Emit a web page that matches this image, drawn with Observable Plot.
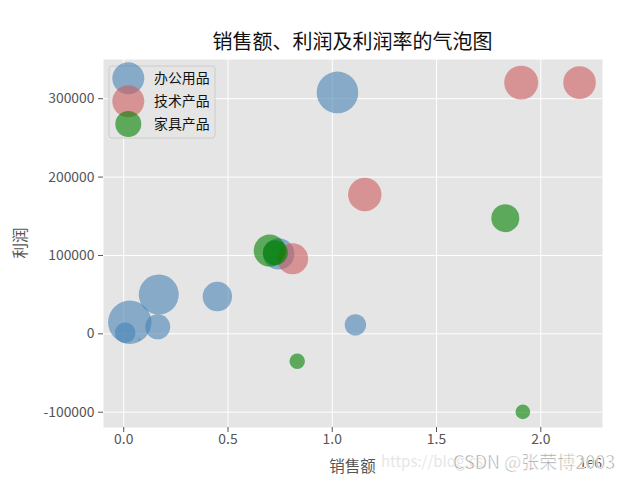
<!DOCTYPE html>
<html><head><meta charset="utf-8">
<script src="https://cdn.jsdelivr.net/npm/d3@7"></script>
<script src="https://cdn.jsdelivr.net/npm/@observablehq/plot@0.6"></script>
<style>body{margin:0;background:#fff;}</style>
</head><body><div id="chart"></div>
<script>
const categories = ["办公用品", "技术产品", "家具产品"];
const colors = ["steelblue", "indianred", "green"];

// 办公用品
const officeSales  = [29000, 7000, 168000, 163000, 449000, 1111000, 75000, 1025000, 743000];
const officeProfit = [14800, 1300, 50100, 8900, 47600, 11500, -7300, 308000, 102000];
const officeRate   = [49.1, 11.1, 41.7, 16.3, 22.5, 11.9, 0.1, 45.1, 25.7];
// 技术产品
const techSales  = [1906000, 2186000, 1156000, 810000];
const techProfit = [320500, 320500, 177700, 95700];
const techRate   = [30.1, 27.7, 29.1, 25.0];
// 家具产品
const furnSales  = [700000, 727000, 832000, 1830000, 1914000];
const furnProfit = [106200, 103500, -35000, 147500, -99500];
const furnRate   = [26.7, 16.3, 6.2, 20.4, 5.6];

const xTicks = [0, 500000, 1000000, 1500000, 2000000];
const yTicks = [-100000, 0, 100000, 200000, 300000];

const series = [
  [officeSales, officeProfit, officeRate],
  [techSales, techProfit, techRate],
  [furnSales, furnProfit, furnRate]
];
const rows = series.flatMap(([s, p, r], i) =>
  s.map((v, j) => ({cat: categories[i], sales: v, profit: p[j], rate: r[j]})));

const font = "'Noto Sans CJK SC', 'Noto Sans', sans-serif";
const svg = Plot.plot({
  width: 640, height: 480,
  marginLeft: 103, marginRight: 38, marginTop: 59, marginBottom: 53,
  style: {fontFamily: font, fontSize: "13.9px", background: "white", overflow: "visible"},
  x: {domain: [-97000, 2296000]},
  y: {domain: [-119500, 350000]},
  r: {type: "sqrt", domain: [0, 50], range: [0, 21.9]},
  color: {domain: categories, range: colors},
  marks: [
    Plot.frame({fill: "#E5E5E5", stroke: null}),
    Plot.gridX(xTicks, {stroke: "white", strokeOpacity: 1, strokeWidth: 1}),
    Plot.gridY(yTicks, {stroke: "white", strokeOpacity: 1, strokeWidth: 1}),
    Plot.axisX(xTicks, {tickFormat: d => (d / 1e6).toFixed(1), tickSize: 5, tickPadding: 2, color: "#555", label: null}),
    Plot.axisY(yTicks, {tickFormat: d => String(d), tickSize: 5, tickPadding: 4, color: "#555", label: null}),
    Plot.dot(rows, {x: "sales", y: "profit", r: "rate", fill: "cat", fillOpacity: 0.6, stroke: null, sort: null})
  ]
});
document.getElementById("chart").appendChild(svg);

const s = d3.select(svg);
const addText = (x, y, size, fill, txt, anchor) =>
  s.append("text").attr("x", x).attr("y", y).attr("text-anchor", anchor || "start")
    .attr("font-size", size).attr("fill", fill).attr("font-family", font).text(txt);

// faint watermark url (behind)
addText(381, 467, 15, "#e6e6e6", "https://blog.cs");
addText(352.5, 49, 20, "#111", "销售额、利润及利润率的气泡图", "middle");
addText(352.5, 472, 15.5, "#555", "销售额", "middle");
s.append("text").attr("transform", "translate(26,243) rotate(-90)").attr("text-anchor", "middle")
  .attr("font-size", 15.5).attr("fill", "#555").attr("font-family", font).text("利润");
addText(602, 468, 13.9, "#555", "1e6", "end");

// legend
const lg = s.append("g");
lg.append("rect").attr("x", 109).attr("y", 66).attr("width", 106).attr("height", 72)
  .attr("rx", 3).attr("fill", "#E5E5E5").attr("stroke", "#cccccc").attr("stroke-width", 1);
const legR = [16, 16, 13];
const legY = [78.3, 101.3, 124];
categories.forEach((c, i) => {
  lg.append("circle").attr("cx", 128.3).attr("cy", legY[i]).attr("r", legR[i])
    .attr("fill", colors[i]).attr("fill-opacity", 0.6);
});
categories.forEach((c, i) => {
  lg.append("text").attr("x", 154).attr("y", legY[i]).attr("dy", "0.36em").attr("text-anchor", "start")
    .attr("font-size", 13.9).attr("fill", "#111").attr("font-family", font).text(c);
});

// watermark
s.append("text").attr("x", 453).attr("y", 469).attr("text-anchor", "start").attr("font-size", 18)
  .attr("fill", "#a0a0a0").attr("stroke", "white").attr("stroke-width", 0.6)
  .attr("font-family", font).text("CSDN @张荣博2003");
</script></body></html>
